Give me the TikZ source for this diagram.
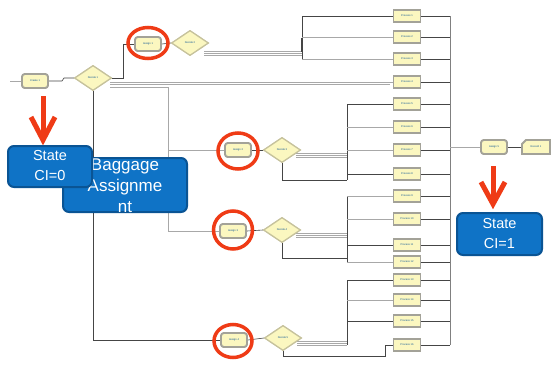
\documentclass[tikz,border=0pt]{standalone}
\usepackage{fontspec}
\setmainfont{Liberation Sans}
\usetikzlibrary{shapes.geometric}
\definecolor{nodefill}{HTML}{FBF7C0}
\definecolor{boxgray}{HTML}{A3A298}
\definecolor{decgray}{HTML}{C6C29C}
\definecolor{wire}{HTML}{454545}
\definecolor{lwire}{HTML}{A8A8A8}
\definecolor{bluefill}{HTML}{0F73C6}
\definecolor{blueedge}{HTML}{0A5494}
\definecolor{redmark}{HTML}{EF3B16}
\newcommand{\tinylbl}{\fontsize{2.6}{3}\selectfont\color{blueedge}}
\tikzset{
  pbox/.style={rectangle, draw=boxgray, line width=1.8pt, fill=nodefill, minimum width=27pt, minimum height=12pt, inner sep=0pt, font=\tinylbl},
  abox/.style={rectangle, rounded corners=3pt, draw=boxgray, line width=1.8pt, fill=nodefill, minimum width=26pt, minimum height=14pt, inner sep=0pt, font=\tinylbl},
  dec/.style={diamond, draw=decgray, line width=1.2pt, fill=nodefill, minimum width=37pt, minimum height=25pt, inner sep=0pt, font=\tinylbl},
  wr/.style={draw=wire, line width=0.6pt},
  lw/.style={draw=lwire, line width=0.6pt},
  ring/.style={draw=redmark, line width=3.5pt},
  redarrow/.style={draw=redmark, line width=5pt},
  bluebox/.style={fill=bluefill, draw=blueedge, line width=2pt, rounded corners=6pt},
  bluetext/.style={text=white, align=center, inner sep=0pt}
}
\newcommand{\triplewire}[3]{%
  \draw[lw] (#1,#3-2) -- (#2,#3-2);
  \draw[lw] (#1,#3) -- (#2,#3);
  \draw[lw] (#1,#3+2) -- (#2,#3+2);
}
\begin{document}
\begin{tikzpicture}[x=1pt,y=-1pt]
\useasboundingbox (0,0) rectangle (555,365);
\fill[white] (0,0) rectangle (555,365);

% ---- nodes (positions) ----
\node[abox] (c0) at (35,81) {Create 1};
\node[dec] (d1) at (93,78) {Decide 1};
\node[abox] (a1) at (148,44) {Assign 1};
\node[dec] (d2) at (190,43) {Decide 2};
\node[abox] (a2) at (238,150) {Assign 2};
\node[dec] (d3) at (282,150) {Decide 3};
\node[abox] (a3) at (233,231) {Assign 3};
\node[dec] (d4) at (282,230) {Decide 4};
\node[abox] (a4) at (234,340) {Assign 4};
\node[dec] (d5) at (283,338) {Decide 5};
\foreach \i/\y in {1/16,2/37,3/59,4/82,5/104,6/127,7/150,8/174,9/196,10/219,11/245,12/262,13/280,14/300,15/321,16/345}{
  \node[pbox] (p\i) at (407,\y) {Process \i};
}
\node[abox] (a5) at (494,147) {Assign 5};
\node[pbox, draw=none, fill=none] (rec) at (536,147) {};

% ---- connectors ----
\coordinate (in0) at (10,81);
\draw[lw] (in0) -- (c0.west);
\draw[wr] (c0.east) -- (62,81) -- (64,78) -- (d1.west);
\draw[wr] (d1.east) -- (123,78) |- (a1.west);
\draw[wr] (a1.east) -- (d2.west);
\draw[lw] (110,82) -- (p4.west);
\draw[lw] (110,84) -- (390,84);
\draw[lw] (110,87) -- (168,87) |- (a2.west);
\draw[lw] (168,150) |- (a3.west);
\draw[wr] (d1.south) |- (a4.west);
\draw[wr] (a2.east) -- (d3.west);
\draw[wr] (a3.east) -- (d4.west);
\draw[wr] (a4.east) -- (d5.west);
% decide 2 branches
\coordinate (v2a) at (302,16);
\coordinate (v2b) at (302,59);
\triplewire{204}{302}{53}
\draw[wr] (v2a) -- (v2b);
\draw[draw=wire, line width=1.2pt] (302,38) -- (302,52);
\draw[wr] (v2a) -- (p1.west);
\draw[lw] (302,37) -- (p2.west);
\draw[lw] (v2b) -- (p3.west);
% decide 3 branches
\triplewire{296}{347}{155}
\draw[wr] (d3.south) |- (347,180);
\draw[wr] (347,104) -- (347,180);
\draw[wr] (347,104) -- (p5.west);
\draw[lw] (347,127) -- (p6.west);
\draw[lw] (347,150) -- (p7.west);
\draw[wr] (347,174) -- (p8.west);
% decide 4 branches
\triplewire{296}{347}{235}
\draw[wr] (d4.south) |- (347,258);
\draw[wr] (347,196) -- (347,262);
\draw[lw] (347,196) -- (p9.west);
\draw[lw] (347,219) -- (p10.west);
\draw[wr] (347,245) -- (p11.west);
\draw[lw] (347,262) -- (p12.west);
% decide 5 branches
\triplewire{297}{347}{343}
\draw[wr] (347,280) -- (347,345);
\draw[wr] (347,280) -- (p13.west);
\draw[lw] (347,300) -- (p14.west);
\draw[wr] (347,321) -- (p15.west);
\draw[wr] (d5.south) |- (385,356) |- (p16.west);
% collector
\foreach \i/\y in {1/16,2/37,3/59,4/82,5/104,6/127,7/150,8/174,9/196,10/219,11/245,12/262,13/280,14/300,15/321,16/345}{
  \draw[wr] (p\i.east) -- (450,\y);
}
\draw[draw=gray, line width=1pt] (450,16) -- (450,345);
\draw[lw] (450,147) -- (a5.west);
\draw[wr] (a5.east) -- (rec.west);

% redraw nodes on top of wires
\node[abox] at (c0) {Create 1};
\node[dec] at (d1) {Decide 1};
\node[abox] at (a1) {Assign 1};
\node[dec] at (d2) {Decide 2};
\node[abox] at (a2) {Assign 2};
\node[dec] at (d3) {Decide 3};
\node[abox] at (a3) {Assign 3};
\node[dec] at (d4) {Decide 4};
\node[abox] at (a4) {Assign 4};
\node[dec] at (d5) {Decide 5};
\foreach \i/\y in {1/16,2/37,3/59,4/82,5/104,6/127,7/150,8/174,9/196,10/219,11/245,12/262,13/280,14/300,15/321,16/345}{
  \node[pbox] at (407,\y) {Process \i};
}
\node[abox] at (a5) {Assign 5};
\draw[draw=boxgray, line width=1.8pt, fill=nodefill] (526,140) -- (550,140) -- (550,154) -- (522,154) -- (522,144) -- cycle;
\node[font=\tinylbl] at (536,147) {Record 1};

% red rings
\draw[ring] (148,43) ellipse [x radius=20, y radius=15.5];
\draw[ring] (238,151) ellipse [x radius=20, y radius=18];
\draw[ring] (233,230) ellipse [x radius=19.5, y radius=19];
\draw[ring] (233,341) ellipse [x radius=19, y radius=16.5];

% red arrows
\draw[redarrow] (43,96) -- (43,138);
\draw[redarrow, line join=miter] (31,117) -- (43,140) -- (55,117);
\draw[redarrow] (493,166) -- (493,202);
\draw[redarrow, line join=miter] (481,182) -- (493,204) -- (505,182);

% blue callouts
\draw[bluebox] (63,158) rectangle (187,212);
\node[bluetext, font=\fontsize{17}{21}\selectfont] (bag) at (125,186) {Baggage\\Assignme\\nt};
\draw[bluebox] (8,146) rectangle (92,187);
\node[bluetext, font=\fontsize{14.5}{20}\selectfont] (s0) at (50,166) {State\\CI=0};
\draw[bluebox] (457,213) rectangle (542,255);
\node[bluetext, font=\fontsize{14.5}{20}\selectfont] (s1) at (499.5,234) {State\\CI=1};
\end{tikzpicture}
\end{document}
